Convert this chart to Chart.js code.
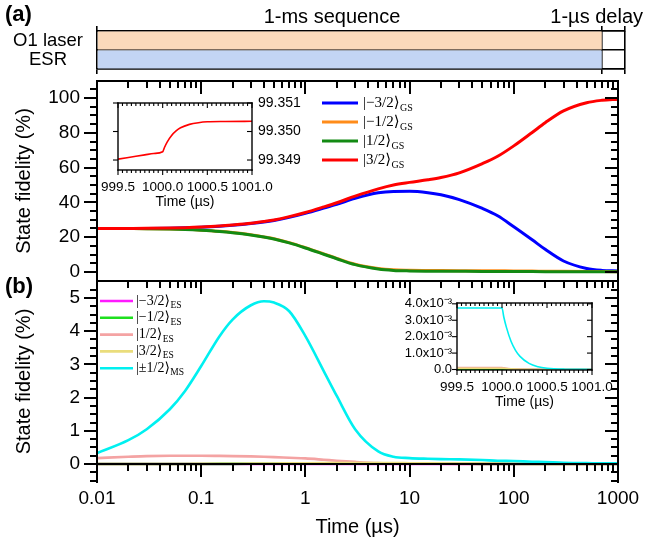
<!DOCTYPE html>
<html>
<head>
<meta charset="utf-8">
<script src="https://cdn.jsdelivr.net/npm/chart.js@4.4.1/dist/chart.umd.min.js"></script>
<style>
  html, body { margin: 0; padding: 0; background: #fff; }
  #wrap { position: relative; width: 645px; height: 544px; overflow: hidden; }
  canvas { position: absolute; }
  .tk { position: absolute; background: #000; }
</style>
</head>
<body>
<div id="wrap">
  <canvas id="seq" width="645" height="95" style="left:0;top:0"></canvas>
  <canvas id="chartB" width="645" height="293" style="left:0;top:251px"></canvas>
  <canvas id="chartA" width="645" height="260" style="left:0;top:51px"></canvas>
  <canvas id="insetA" width="230" height="133" style="left:90px;top:87px"></canvas>
  <canvas id="insetB" width="242" height="133" style="left:380px;top:287px"></canvas>
</div>
<script>
Chart.defaults.font.family = "'Liberation Sans', Arial, sans-serif";
Chart.defaults.color = '#000';

// ---- sequence diagram ----
const seqRows = ['O1 laser', 'ESR'];
const seqColors = ['#fbdabb', '#c3d5f4'];
const seqEdges = [0, 1000, 1046]; // 1-ms sequence, then the 1-µs delay (drawn schematic)

// ---- main panels, time in µs ----
const timeUs = [0.01, 0.02, 0.03, 0.05, 0.07, 0.1, 0.15, 0.2, 0.3, 0.4, 0.5, 0.7, 1, 1.5, 2, 3, 5, 7, 10, 15, 20, 30, 50, 70, 100, 150, 200, 300, 500, 700, 1000];
const timeTicks = [0.01, 0.1, 1, 10, 100, 1000];

// ground states (%)
const gsM32 = [25.0, 25.0, 25.05, 25.2, 25.4, 25.7, 26.25, 26.8, 27.8, 28.7, 29.6, 31.4, 33.7, 36.7, 38.9, 42.3, 45.5, 46.3, 46.4, 45.6, 44.4, 41.6, 36.5, 32.3, 26.0, 18.5, 13.0, 6.3, 2.0, 0.9, 0.6];
const gsM12 = [25.0, 24.95, 24.9, 24.75, 24.5, 24.05, 23.35, 22.65, 21.35, 20.15, 19.1, 16.85, 13.95, 10.4, 7.8, 4.45, 2.0, 1.2, 0.95, 0.85, 0.8, 0.75, 0.7, 0.65, 0.6, 0.5, 0.45, 0.35, 0.25, 0.2, 0.15];
const gsP12 = [25.0, 24.95, 24.9, 24.7, 24.45, 24.0, 23.3, 22.6, 21.3, 20.1, 19.0, 16.7, 13.8, 10.2, 7.6, 4.2, 1.7, 0.9, 0.6, 0.45, 0.4, 0.35, 0.3, 0.28, 0.25, 0.2, 0.18, 0.15, 0.1, 0.08, 0.05];
const gsP32 = [25.0, 25.05, 25.1, 25.25, 25.45, 25.8, 26.4, 27.0, 28.0, 29.0, 29.9, 31.8, 34.2, 37.4, 39.8, 43.6, 47.8, 50.0, 51.5, 53.0, 54.3, 57.0, 62.3, 66.5, 72.5, 80.2, 85.8, 92.6, 97.3, 98.7, 99.35];
const gsKets = ['|\u22123/2\u27E9', '|\u22121/2\u27E9', '|1/2\u27E9', '|3/2\u27E9'];
const gsColors = ['#0000ff', '#ff8c1a', '#138a13', '#ff0000'];
const fidTicksA = [0, 20, 40, 60, 80, 100];

// excited / metastable states (%)
const esM32 = [0.0, 0.0, 0.0, 0.001, 0.001, 0.001, 0.002, 0.002, 0.003, 0.003, 0.004, 0.004, 0.005, 0.005, 0.006, 0.006, 0.006, 0.005, 0.005, 0.004, 0.004, 0.003, 0.003, 0.002, 0.002, 0.002, 0.001, 0.001, 0.001, 0.0, 0.0];
const esM12 = [0.0, 0.001, 0.001, 0.002, 0.003, 0.004, 0.005, 0.006, 0.008, 0.01, 0.011, 0.013, 0.015, 0.017, 0.018, 0.019, 0.018, 0.016, 0.014, 0.012, 0.01, 0.008, 0.006, 0.005, 0.004, 0.003, 0.003, 0.002, 0.001, 0.001, 0.001];
const esP12 = [0.18, 0.22, 0.24, 0.25, 0.25, 0.25, 0.245, 0.24, 0.23, 0.22, 0.21, 0.19, 0.17, 0.13, 0.1, 0.065, 0.03, 0.02, 0.012, 0.01, 0.008, 0.006, 0.005, 0.004, 0.003, 0.002, 0.002, 0.001, 0.001, 0.0, 0.0];
const esP32 = [0.0, 0.001, 0.002, 0.003, 0.004, 0.006, 0.008, 0.01, 0.013, 0.016, 0.018, 0.022, 0.026, 0.03, 0.032, 0.034, 0.032, 0.03, 0.026, 0.022, 0.02, 0.016, 0.012, 0.01, 0.008, 0.006, 0.005, 0.004, 0.003, 0.002, 0.002];
const msPM12 = [0.33, 0.72, 1.05, 1.65, 2.2, 2.95, 3.85, 4.35, 4.78, 4.9, 4.86, 4.6, 3.85, 2.8, 2.05, 1.05, 0.38, 0.22, 0.18, 0.16, 0.15, 0.14, 0.12, 0.1, 0.09, 0.07, 0.06, 0.04, 0.03, 0.02, 0.02];
const esKets = ['|\u22123/2\u27E9', '|\u22121/2\u27E9', '|1/2\u27E9', '|3/2\u27E9', '|\u00B11/2\u27E9'];
const esSubs = ['ES', 'ES', 'ES', 'ES', 'MS'];
const esColors = ['#ff1aff', '#1ee01e', '#f4a3a3', '#eadd7c', '#00f0f0'];
const fidTicksB = [0, 1, 2, 3, 4, 5];

// ---- insets: the 1-µs delay after the sequence ----
const insetTime = [999.5, 999.6, 999.7, 999.8, 999.9, 1000.0, 1000.02, 1000.05, 1000.1, 1000.15, 1000.2, 1000.3, 1000.4, 1000.5, 1000.7, 1001.0];
const insetTicks = [999.5, 1000.0, 1000.5, 1001.0];
const insetGsP32 = [99.34903, 99.34908, 99.34913, 99.34918, 99.34923, 99.34929, 99.34944, 99.34963, 99.34986, 99.35002, 99.35013, 99.35025, 99.35031, 99.35034, 99.35035, 99.35036];
const insetATicks = [99.349, 99.350, 99.351];
const insetMs = [3.75e-3, 3.75e-3, 3.75e-3, 3.75e-3, 3.75e-3, 3.75e-3, 3.2e-3, 2.55e-3, 1.72e-3, 1.17e-3, 0.8e-3, 0.37e-3, 0.17e-3, 0.08e-3, 0.02e-3, 0.002e-3];
const insetP12 = [1.2e-4, 1.2e-4, 1.2e-4, 1.2e-4, 1.2e-4, 1.2e-4, 1.0e-4, 0.75e-4, 0.5e-4, 0.35e-4, 0.25e-4, 0.12e-4, 0.06e-4, 0.03e-4, 0.01e-4, 0];
const insetP32 = [0.8e-4, 0.8e-4, 0.8e-4, 0.8e-4, 0.8e-4, 0.8e-4, 0.7e-4, 0.55e-4, 0.38e-4, 0.26e-4, 0.18e-4, 0.09e-4, 0.04e-4, 0.02e-4, 0.01e-4, 0];
const insetM12 = [1e-5, 1e-5, 1e-5, 1e-5, 1e-5, 1e-5, 0.9e-5, 0.7e-5, 0.5e-5, 0.3e-5, 0.2e-5, 0.1e-5, 0.05e-5, 0, 0, 0];
const insetM32 = [0.5e-5, 0.5e-5, 0.5e-5, 0.5e-5, 0.5e-5, 0.5e-5, 0.4e-5, 0.3e-5, 0.2e-5, 0.1e-5, 0.05e-5, 0, 0, 0, 0, 0];
const insetBTicks = [0, 1e-3, 2e-3, 3e-3, 4e-3];
const insetBLabels = ['0.0', '1.0x10\u207B\u00B3', '2.0x10\u207B\u00B3', '3.0x10\u207B\u00B3', '4.0x10\u207B\u00B3'];

// minor tick positions
const logMinor = [];
for (let d = -2; d < 3; d++) for (let m = 2; m <= 9; m++) logMinor.push(+(m * Math.pow(10, d)).toPrecision(3));
const minorA = [];
for (let v = 5; v <= 105; v += 5) if (v % 20) minorA.push(v);
const minorB = [];
for (let k = -2; k <= 21; k++) if (k % 4) minorB.push(k * 0.25);
const insetMinor = [];
for (let k = 1; k < 30; k++) if (k % 10) insetMinor.push(999.5 + k * 0.05);

const pts = (xs, ys) => xs.map((x, i) => ({ x: x, y: ys[i] }));
const fixTicks = vals => scale => { scale.ticks = vals.map(v => ({ value: v })); };
const noGrid = () => ({ display: false, drawTicks: false });
const quiet = () => ({ legend: { display: false }, tooltip: { enabled: false } });

// frame line + tick geometry for one side, in canvas pixels, from the chart's scales
function sideGeometry(chart, s, spec) {
  const a = chart.chartArea;
  const xs = chart.scales.x, ys = chart.scales.y;
  const horiz = s.side === 'top' || s.side === 'bottom';
  let pos = s.side === 'left' ? a.left : s.side === 'right' ? a.right : s.side === 'top' ? a.top : a.bottom;
  if (s.atValue !== undefined) pos = ys.getPixelForValue(s.atValue);
  let sign = (s.side === 'left' || s.side === 'top') ? -1 : 1;
  if (s.dir === 'in') sign = -sign;
  const lw = spec.lineWidth, tw = spec.tickWidth;
  const rects = [];
  if (horiz) rects.push([a.left - lw / 2, pos - lw / 2, a.right - a.left + lw, lw]);
  else rects.push([pos - lw / 2, a.top - lw / 2, lw, a.bottom - a.top + lw]);
  const add = (list, len) => list.forEach(v => {
    const p = horiz ? xs.getPixelForValue(v) : ys.getPixelForValue(v);
    if (!isFinite(p)) return;
    const o = Math.min(0, sign * len);
    if (horiz) rects.push([p - tw / 2, pos + o, tw, len]);
    else rects.push([pos + o, p - tw / 2, len, tw]);
  });
  add(s.major || [], spec.majorLen);
  add(s.minor || [], spec.minorLen);
  return rects;
}

// canvas frame (used for the insets)
function frame(spec) {
  return {
    id: 'frameX',
    afterDraw(chart) {
      const ctx = chart.ctx;
      ctx.save();
      ctx.fillStyle = '#000';
      spec.sides.forEach(s => sideGeometry(chart, s, spec).forEach(r => ctx.fillRect(r[0], r[1], r[2], r[3])));
      ctx.restore();
    }
  };
}

// frame for the main panels: laid on top of the canvas as small page elements
function frameOverlay(chart, spec) {
  const wrap = document.getElementById('wrap');
  const ox = chart.canvas.offsetLeft, oy = chart.canvas.offsetTop;
  spec.sides.forEach(s => sideGeometry(chart, s, spec).forEach(r => {
    const d = document.createElement('div');
    d.className = 'tk';
    d.style.left = (ox + r[0]) + 'px';
    d.style.top = (oy + r[1]) + 'px';
    d.style.width = r[2] + 'px';
    d.style.height = r[3] + 'px';
    wrap.appendChild(d);
  }));
}

// legend with ket labels and subscripts
const ketLegend = {
  id: 'ketLegend',
  afterDraw(chart, args, o) {
    const ctx = chart.ctx;
    const fam = "'Liberation Serif', 'DejaVu Serif', serif";
    ctx.save();
    ctx.textBaseline = 'middle';
    ctx.textAlign = 'left';
    ctx.fillStyle = '#000';
    chart.data.datasets.forEach((ds, i) => {
      const y = o.y + i * o.step;
      ctx.strokeStyle = ds.borderColor;
      ctx.lineWidth = o.lineWidth;
      ctx.beginPath();
      ctx.moveTo(o.x, y);
      ctx.lineTo(o.x + o.len, y);
      ctx.stroke();
      const tx = o.x + o.len + o.gap;
      ctx.font = o.size + 'px ' + fam;
      ctx.fillText(ds.label, tx, y);
      const w = ctx.measureText(ds.label).width;
      ctx.font = o.subSize + 'px ' + fam;
      ctx.fillText(ds.sub, tx + w + 0.5, y + o.subDy);
    });
    ctx.restore();
  }
};

const panelText = {
  id: 'panelText',
  afterDraw(chart, args, o) {
    const ctx = chart.ctx;
    ctx.save();
    ctx.fillStyle = '#000';
    for (const t of o.items) {
      ctx.font = t.font;
      ctx.textAlign = t.align || 'left';
      ctx.textBaseline = 'alphabetic';
      ctx.fillText(t.text, t.x, t.y);
    }
    ctx.restore();
  }
};

// ---------- sequence bars ----------
new Chart(document.getElementById('seq'), {
  type: 'bar',
  data: {
    labels: seqRows,
    datasets: [{
      data: seqRows.map(() => [seqEdges[0], seqEdges[1]]),
      backgroundColor: seqColors,
      barPercentage: 0.94,
      categoryPercentage: 1
    }]
  },
  options: {
    responsive: false, animation: false,
    indexAxis: 'y',
    layout: { padding: { left: 0, right: 20, top: 0, bottom: 0 } },
    plugins: Object.assign(quiet(), {
      panelText: { items: [
        { text: '(a)', x: 5, y: 21, font: "bold 22px 'Liberation Sans', Arial, sans-serif" },
        { text: '1-ms sequence', x: 332, y: 23, align: 'center', font: "20px 'Liberation Sans', Arial, sans-serif" },
        { text: '1-\u00B5s delay', x: 643, y: 23, align: 'right', font: "20px 'Liberation Sans', Arial, sans-serif" }
      ] }
    }),
    scales: {
      x: {
        type: 'linear', min: seqEdges[0], max: seqEdges[2], position: 'bottom', z: 1,
        afterBuildTicks: fixTicks(seqEdges),
        ticks: { display: false },
        grid: { color: '#000', lineWidth: 1.6, drawTicks: true, tickLength: 5 },
        border: { display: true, color: '#000', width: 1.6 },
        afterFit: s => { s.height = 26; }
      },
      xTop: {
        type: 'linear', min: seqEdges[0], max: seqEdges[2], position: 'top', z: 1,
        afterBuildTicks: fixTicks(seqEdges),
        ticks: { display: false },
        grid: { color: '#000', lineWidth: 1.6, drawOnChartArea: false, tickLength: 5 },
        border: { display: true, color: '#000', width: 1.6 },
        afterFit: s => { s.height = 31; }
      },
      y: {
        type: 'category', z: 1,
        grid: { color: '#000', lineWidth: 1.6, offset: true, drawTicks: false },
        border: { display: false },
        ticks: { font: { size: 18.5 }, padding: 14, crossAlign: 'center', autoSkip: false },
        afterFit: s => { s.width = 97; }
      }
    }
  },
  plugins: [panelText]
});

// ---------- panel (a) ----------
const specA = { lineWidth: 2.5, tickWidth: 2, majorLen: 13, minorLen: 7, sides: [
  { side: 'left', dir: 'out', major: fidTicksA, minor: minorA },
  { side: 'right', dir: 'in', major: fidTicksA, minor: minorA },
  { side: 'top', dir: 'in', major: timeTicks, minor: logMinor },
  { side: 'bottom', dir: 'out', major: timeTicks, minor: logMinor }
] };
const chartA = new Chart(document.getElementById('chartA'), {
  type: 'line',
  data: {
    datasets: [gsM32, gsM12, gsP12, gsP32].map((vals, i) => ({
      label: gsKets[i], sub: 'GS', data: pts(timeUs, vals),
      borderColor: gsColors[i], order: 3 - i
    }))
  },
  options: {
    responsive: false, animation: false,
    layout: { padding: { left: 0, right: 27, top: 30, bottom: 30 } },
    elements: { point: { radius: 0 }, line: { borderWidth: 3, cubicInterpolationMode: 'monotone' } },
    plugins: Object.assign(quiet(), {
      ketLegend: { x: 322, y: 52, step: 19, len: 36, gap: 5, size: 15, subSize: 10, subDy: 5, lineWidth: 3 }
    }),
    scales: {
      x: { type: 'logarithmic', min: 0.01, max: 1000, display: false },
      y: {
        type: 'linear', min: -5.2, max: 109.8,
        afterBuildTicks: fixTicks(fidTicksA),
        grid: noGrid(), border: { display: false },
        ticks: { font: { size: 19 }, padding: 17 },
        title: { display: true, text: 'State fidelity (%)', font: { size: 20 }, padding: { top: 12, bottom: 0 } },
        afterFit: s => { s.width = 97; }
      }
    }
  },
  plugins: [ketLegend]
});

// ---------- panel (b) ----------
const specB = { lineWidth: 2.5, tickWidth: 2, majorLen: 13, minorLen: 7, sides: [
  { side: 'left', dir: 'out', major: fidTicksB, minor: minorB },
  { side: 'right', dir: 'in', major: fidTicksB, minor: minorB },
  { side: 'top', dir: 'in', major: timeTicks, minor: logMinor },
  { side: 'bottom', dir: 'out', atValue: 0, major: timeTicks, minor: logMinor }
] };
const chartB = new Chart(document.getElementById('chartB'), {
  type: 'line',
  data: {
    datasets: [esM32, esM12, esP12, esP32, msPM12].map((vals, i) => ({
      label: esKets[i], sub: esSubs[i], data: pts(timeUs, vals),
      borderColor: esColors[i], order: 4 - i
    }))
  },
  options: {
    responsive: false, animation: false,
    layout: { padding: { left: 0, right: 27, top: 30, bottom: 0 } },
    elements: { point: { radius: 0 }, line: { borderWidth: 2.6, cubicInterpolationMode: 'monotone' } },
    plugins: Object.assign(quiet(), {
      ketLegend: { x: 100, y: 50, step: 16.8, len: 33, gap: 3, size: 14, subSize: 9.5, subDy: 4.5, lineWidth: 2.6 },
      panelText: { items: [
        { text: '(b)', x: 5, y: 42, font: "bold 22px 'Liberation Sans', Arial, sans-serif" }
      ] }
    }),
    scales: {
      x: {
        type: 'logarithmic', min: 0.01, max: 1000,
        afterBuildTicks: fixTicks(timeTicks),
        grid: noGrid(), border: { display: false },
        ticks: { font: { size: 19 }, padding: 5, maxRotation: 0, autoSkip: false, callback: v => String(v) },
        title: { display: true, text: 'Time (\u00B5s)', font: { size: 20 }, padding: { top: 0, bottom: 5 } },
        afterFit: s => { s.height = 62; }
      },
      y: {
        type: 'linear', min: -0.54, max: 5.51,
        afterBuildTicks: fixTicks(fidTicksB),
        grid: noGrid(), border: { display: false },
        ticks: { font: { size: 19 }, padding: 17 },
        title: { display: true, text: 'State fidelity (%)', font: { size: 20 }, padding: { top: 12, bottom: 0 } },
        afterFit: s => { s.width = 97; }
      }
    }
  },
  plugins: [ketLegend, panelText]
});

// ---------- inset of (a) ----------
const insetX = () => ({
  type: 'linear', min: 999.5, max: 1001.0,
  afterBuildTicks: fixTicks(insetTicks),
  grid: noGrid(), border: { display: false },
  ticks: { font: { size: 13.5 }, padding: 9, maxRotation: 0, autoSkip: false, callback: v => v.toFixed(1) },
  title: { display: true, text: 'Time (\u00B5s)', font: { size: 14 }, padding: { top: 0, bottom: 9 } },
  afterFit: s => { s.height = 50; }
});

new Chart(document.getElementById('insetA'), {
  type: 'line',
  data: { datasets: [{ data: pts(insetTime, insetGsP32), borderColor: gsColors[3] }] },
  options: {
    responsive: false, animation: false,
    layout: { padding: { left: 28, right: 0, top: 16, bottom: 0 } },
    elements: { point: { radius: 0 }, line: { borderWidth: 1.6, cubicInterpolationMode: 'monotone' } },
    plugins: quiet(),
    scales: {
      x: insetX(),
      y: {
        type: 'linear', position: 'right', min: 99.34865, max: 99.3510,
        afterBuildTicks: fixTicks(insetATicks),
        grid: noGrid(), border: { display: false },
        ticks: { font: { size: 14 }, padding: 6, autoSkip: false, callback: v => v.toFixed(3) },
        afterFit: s => { s.width = 68; }
      }
    }
  },
  plugins: [frame({ lineWidth: 1.4, tickWidth: 1.1, majorLen: 5, minorLen: 3, sides: [
    { side: 'left', dir: 'out', major: insetATicks },
    { side: 'right', dir: 'in', major: insetATicks },
    { side: 'top', dir: 'in', major: insetTicks, minor: insetMinor },
    { side: 'bottom', dir: 'out', major: insetTicks, minor: insetMinor }
  ] })]
});

// ---------- inset of (b) ----------
new Chart(document.getElementById('insetB'), {
  type: 'line',
  data: {
    datasets: [insetM32, insetM12, insetP12, insetP32, insetMs].map((vals, i) => ({
      data: pts(insetTime, vals), borderColor: esColors[i], order: 4 - i
    }))
  },
  options: {
    responsive: false, animation: false,
    layout: { padding: { left: 0, right: 30, top: 16, bottom: 0 } },
    elements: { point: { radius: 0 }, line: { borderWidth: 1.6, cubicInterpolationMode: 'monotone' } },
    plugins: quiet(),
    scales: {
      x: insetX(),
      y: {
        type: 'linear', min: -0.03e-3, max: 4.05e-3,
        afterBuildTicks: fixTicks(insetBTicks),
        grid: noGrid(), border: { display: false },
        ticks: { font: { size: 13 }, padding: 5, autoSkip: false, callback: (v, i) => insetBLabels[i] },
        afterFit: s => { s.width = 77; }
      }
    }
  },
  plugins: [frame({ lineWidth: 1.4, tickWidth: 1.1, majorLen: 5, minorLen: 3, sides: [
    { side: 'left', dir: 'out', major: insetBTicks },
    { side: 'right', dir: 'in', major: insetBTicks },
    { side: 'top', dir: 'in', major: insetTicks, minor: insetMinor },
    { side: 'bottom', dir: 'out', major: insetTicks, minor: insetMinor }
  ] })]
});

// main frames with their tick marks, positioned from the finished charts' scales
frameOverlay(chartA, specA);
frameOverlay(chartB, specB);
</script>
</body>
</html>
